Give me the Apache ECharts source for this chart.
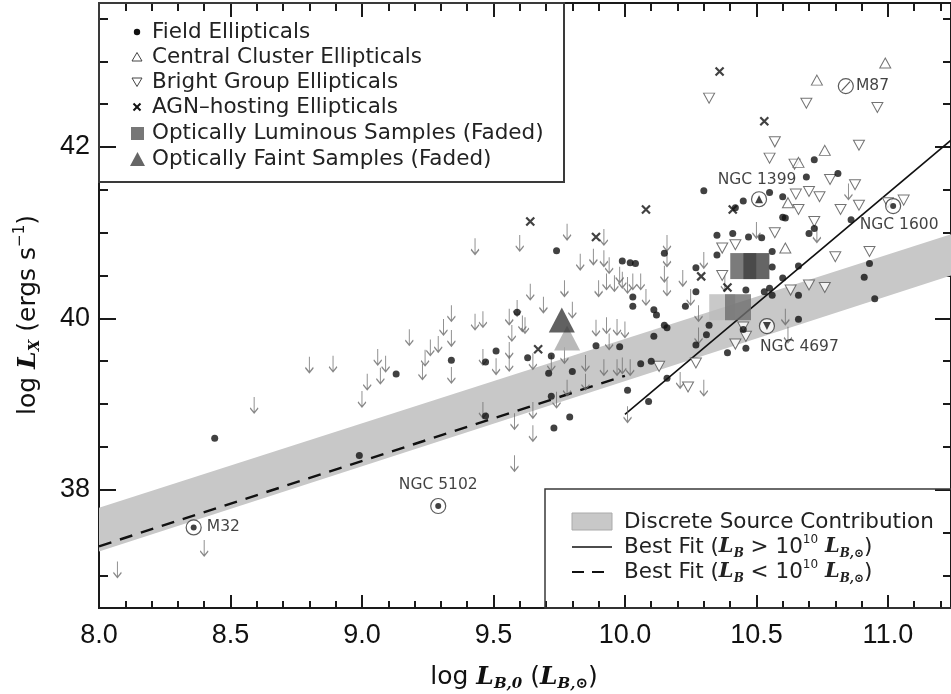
<!DOCTYPE html>
<html>
<head>
<meta charset="utf-8">
<script src="https://cdn.jsdelivr.net/npm/echarts@6/dist/echarts.min.js"></script>
<style>
html, body { margin: 0; padding: 0; background: #fff; }
#chart { width: 951px; height: 694px; }
</style>
</head>
<body>
<div id="chart"></div>
<script>
// axis ranges and ticks
var xMin = 8.0, xMax = 11.24;
var yMin = 36.62, yMax = 43.68;
var xMajorTicks = [8.0, 8.5, 9.0, 9.5, 10.0, 10.5, 11.0];
var xMinorTicks = [8.1, 8.2, 8.3, 8.4, 8.6, 8.7, 8.8, 8.9, 9.1, 9.2, 9.3, 9.4, 9.6, 9.7, 9.8, 9.9,
    10.1, 10.2, 10.3, 10.4, 10.6, 10.7, 10.8, 10.9, 11.1, 11.2];
var yMajorTicks = [38, 40, 42];
var yMinorTicks = [37.0, 37.5, 38.5, 39.0, 39.5, 40.5, 41.0, 41.5, 42.5, 43.0, 43.5];

// discrete source contribution band
var bandX = [8.0, 11.24];
var bandLower = [37.28, 40.50];
var bandUpper = [37.79, 40.98];

// best fits
var fitHigh = [[10.0, 38.88], [11.24, 42.08]];
var fitLow = [[8.0, 37.34], [10.0, 39.33]];

// field ellipticals (filled dots)
var fieldEll = [
    [8.44, 38.60], [8.99, 38.40], [9.13, 39.35], [9.34, 39.51], [9.47, 39.49], [9.51, 39.62],
    [9.47, 38.86], [9.59, 40.07], [9.63, 39.54], [9.74, 40.79], [9.99, 40.67], [10.02, 40.65],
    [10.04, 40.64], [9.72, 39.56], [9.71, 39.36], [9.80, 39.38], [9.72, 39.09], [9.79, 38.85],
    [9.73, 38.72], [10.01, 39.16], [10.09, 39.03], [10.06, 39.47], [10.10, 39.50], [9.89, 39.68],
    [9.98, 39.67], [10.03, 40.25], [10.03, 40.14], [10.11, 40.10], [10.12, 40.04], [10.15, 39.92],
    [10.16, 39.89], [10.11, 39.79], [10.15, 40.76], [10.23, 40.14], [10.27, 40.59], [10.27, 40.31],
    [10.32, 39.92], [10.27, 39.69], [10.31, 39.81], [10.35, 40.97], [10.41, 40.99], [10.47, 40.95],
    [10.52, 40.94], [10.35, 40.74], [10.56, 40.78], [10.56, 40.60], [10.60, 41.18], [10.60, 40.47],
    [10.55, 40.35], [10.53, 40.31], [10.46, 40.33], [10.56, 40.27], [10.66, 40.61], [10.70, 40.99],
    [10.72, 41.05], [10.86, 41.15], [10.93, 40.64], [10.91, 40.48], [10.95, 40.23], [10.66, 40.27],
    [10.66, 39.99], [10.46, 39.65], [10.39, 39.60], [10.45, 39.87], [10.16, 39.30], [10.72, 41.85],
    [10.81, 41.69], [10.69, 41.65], [10.30, 41.49], [10.55, 41.47], [10.60, 41.42], [10.45, 41.37],
    [10.42, 41.29], [10.61, 41.17]
];

// central cluster ellipticals (open up triangles)
var clusterEll = [
    [10.73, 42.78], [10.99, 42.98], [10.76, 41.96], [10.66, 41.82], [10.61, 40.82], [10.62, 41.35]
];

// bright group ellipticals (open down triangles)
var groupEll = [
    [10.32, 42.57], [10.69, 42.51], [10.96, 42.46], [10.57, 42.06], [10.89, 42.02], [10.55, 41.87],
    [10.645, 41.80], [10.78, 41.62], [10.65, 41.45], [10.70, 41.48], [10.74, 41.42], [10.66, 41.27],
    [10.82, 41.27], [10.89, 41.32], [10.875, 41.56], [11.00, 41.35], [11.06, 41.38], [10.72, 41.13],
    [10.57, 41.00], [10.80, 40.72], [10.93, 40.78], [10.63, 40.33], [10.70, 40.39], [10.76, 40.36],
    [10.45, 39.90], [10.46, 39.79], [10.42, 39.70], [10.27, 39.48], [10.24, 39.20], [10.13, 39.44],
    [10.37, 40.82], [10.37, 40.50], [10.42, 40.86]
];

// AGN-hosting ellipticals (crosses)
var agnEll = [
    [10.36, 42.88], [10.53, 42.30], [10.08, 41.27], [9.64, 41.13], [9.89, 40.95], [10.41, 41.27],
    [9.67, 39.64], [10.29, 40.49], [10.39, 40.36]
];

// upper limits (down arrows)
var upperLimits = [
    [8.07, 37.07], [8.40, 37.32], [8.59, 38.99], [8.80, 39.46], [8.89, 39.47], [9.00, 39.06],
    [9.02, 39.26], [9.06, 39.55], [9.07, 39.33], [9.09, 39.47], [9.18, 39.78], [9.23, 39.38],
    [9.24, 39.54], [9.26, 39.66], [9.29, 39.70], [9.31, 39.90], [9.34, 40.06], [9.34, 39.77],
    [9.34, 39.34], [9.43, 40.84], [9.43, 39.96], [9.46, 39.99], [9.46, 39.55], [9.51, 39.44],
    [9.46, 38.93], [9.56, 40.02], [9.59, 40.12], [9.60, 40.88], [9.64, 40.31], [9.62, 39.92],
    [9.57, 39.83], [9.56, 39.63], [9.56, 39.48], [9.65, 39.50], [9.58, 38.80], [9.65, 38.93],
    [9.65, 38.66], [9.58, 38.31], [9.92, 40.95], [9.78, 41.01], [9.83, 40.66], [9.88, 40.72],
    [9.92, 40.70], [9.94, 40.62], [9.69, 40.16], [9.77, 40.35], [9.80, 40.10], [9.61, 39.94],
    [9.77, 39.57], [9.72, 39.48], [9.74, 39.05], [9.78, 39.19], [9.85, 39.26], [9.92, 39.43],
    [9.97, 39.43], [9.99, 39.45], [10.02, 39.43], [9.85, 39.48], [9.94, 39.73], [9.89, 39.89],
    [9.93, 39.92], [9.97, 39.90], [10.00, 39.87], [9.90, 40.35], [9.93, 40.43], [9.96, 40.41],
    [9.98, 40.51], [9.99, 40.45], [10.01, 40.39], [10.03, 40.43], [10.06, 40.43], [10.16, 40.88],
    [10.16, 40.70], [10.15, 40.52], [10.16, 40.36], [10.22, 40.47], [10.25, 40.25], [10.28, 40.06],
    [10.28, 39.80], [10.30, 40.68], [10.38, 40.41], [10.08, 40.25], [10.50, 41.03], [10.73, 40.98],
    [10.85, 41.48], [10.61, 40.02], [10.62, 39.81], [10.30, 39.19], [10.21, 39.28], [10.01, 38.88]
];

// faded stacked samples
var lumSquares = [[10.37, 40.13], [10.43, 40.13], [10.45, 40.61], [10.50, 40.61]];
var lumColors = ['#bbbbbb', '#6e6e6e', '#5a5a5a', '#3e3e3e'];
var faintTriangles = [[9.78, 39.77], [9.76, 39.98]];
var faintColors = ['#a8a8a8', '#3a3a3a'];

// labelled galaxies
var specialNames = ['M32', 'NGC 5102', 'NGC 4697', 'NGC 1399', 'M87', 'NGC 1600'];
var specialX = [8.36, 9.29, 10.54, 10.51, 10.84, 11.02];
var specialY = [37.56, 37.81, 39.91, 41.39, 42.71, 41.31];

var labelPlace = {
    'M32': { position: 'right', distance: 5, offset: [0, 0] },
    'NGC 5102': { position: 'top', distance: 5, offset: [0, 0] },
    'NGC 4697': { position: 'right', distance: 5, offset: [-20, 21] },
    'NGC 1399': { position: 'top', distance: 3, offset: [-2, 0] },
    'M87': { position: 'right', distance: 2, offset: [0, 0] },
    'NGC 1600': { position: 'bottom', distance: 3, offset: [6, 0] }
};

var FONT = 'DejaVu Sans';
var downTri = 'path://M0,0 L10,0 L5,8.7 Z';
var crossPath = 'path://M0,0 L10,10 M10,0 L0,10';
var arrowPath = 'path://M4,0 L4,16 M1,11 L4,16 L7,11';
var slashRing = 'path://M10,5 A5,5 0 1 1 0,5 A5,5 0 1 1 10,5 Z M2.2,8 L7.8,2';

var chart = echarts.init(document.getElementById('chart'), null, { renderer: 'canvas' });

function xAxisDef(pos, ticks, len, withLabels) {
    return {
        type: 'value', position: pos, min: xMin, max: xMax,
        axisLine: { show: true, onZero: false, lineStyle: { color: '#1a1a1a', width: 2 } },
        axisTick: { show: true, inside: true, length: len, customValues: ticks,
            lineStyle: { color: '#1a1a1a', width: 2 } },
        axisLabel: withLabels ? {
            show: true, customValues: xMajorTicks, margin: 14,
            fontFamily: 'Liberation Sans', fontSize: 27, color: '#111',
            formatter: function (v) { return v.toFixed(1); }
        } : { show: false },
        splitLine: { show: false }, minorTick: { show: false }
    };
}

function yAxisDef(pos, ticks, len, withLabels) {
    return {
        type: 'value', position: pos, min: yMin, max: yMax,
        axisLine: { show: true, onZero: false, lineStyle: { color: '#1a1a1a', width: 2 } },
        axisTick: { show: true, inside: true, length: len, customValues: ticks,
            lineStyle: { color: '#1a1a1a', width: 2 } },
        axisLabel: withLabels ? {
            show: true, customValues: yMajorTicks, margin: 9,
            fontFamily: 'Liberation Sans', fontSize: 27, color: '#111',
            formatter: function (v) { return String(Math.round(v)); }
        } : { show: false },
        splitLine: { show: false }, minorTick: { show: false }
    };
}

var specialData = specialNames.map(function (n, i) {
    var p = labelPlace[n];
    return {
        name: n, value: [specialX[i], specialY[i]],
        symbol: n === 'M87' ? slashRing : 'circle',
        label: { show: true, formatter: n, position: p.position, distance: p.distance, offset: p.offset }
    };
});
var specialInner = specialNames.map(function (n, i) {
    var sym = 'circle', size = 6;
    if (n === 'M87') { sym = 'none'; }
    if (n === 'NGC 1399') { sym = 'triangle'; size = 8; }
    if (n === 'NGC 4697') { sym = downTri; size = 8; }
    return { value: [specialX[i], specialY[i]], symbol: sym, symbolSize: size };
});

var rich = {
    L: { fontFamily: 'DejaVu Serif', fontStyle: 'italic', fontWeight: 'bold', fontSize: 21, lineHeight: 26 },
    s: { fontFamily: 'DejaVu Serif', fontStyle: 'italic', fontWeight: 'bold', fontSize: 12, lineHeight: 13, verticalAlign: 'bottom' },
    p: { fontFamily: FONT, fontSize: 12, lineHeight: 14, verticalAlign: 'top' }
};
var richBig = {
    L: { fontFamily: 'DejaVu Serif', fontStyle: 'italic', fontWeight: 'bold', fontSize: 25, lineHeight: 30 },
    s: { fontFamily: 'DejaVu Serif', fontStyle: 'italic', fontWeight: 'bold', fontSize: 15, lineHeight: 15, verticalAlign: 'bottom' },
    p: { fontFamily: FONT, fontSize: 15, lineHeight: 15, verticalAlign: 'top' }
};

var legendRows = [32, 57, 82, 107, 133, 159];
var legendText = ['Field Ellipticals', 'Central Cluster Ellipticals', 'Bright Group Ellipticals',
    'AGN\u2013hosting Ellipticals', 'Optically Luminous Samples (Faded)', 'Optically Faint Samples (Faded)'];

var graphics = [
    { type: 'rect', z: 100, shape: { x: 99, y: 3, width: 465, height: 179 },
        style: { fill: 'none', stroke: '#3a3a3a', lineWidth: 2 } },
    { type: 'rect', z: 100, shape: { x: 545, y: 489, width: 420, height: 119 },
        style: { fill: 'none', stroke: '#3a3a3a', lineWidth: 1.5 } },
    // legend symbols, top-left
    { type: 'circle', z: 101, shape: { cx: 137, cy: legendRows[0], r: 3.2 }, style: { fill: '#111' } },
    { type: 'polygon', z: 101, shape: { points: [[132, legendRows[1] + 4], [142, legendRows[1] + 4], [137, legendRows[1] - 4.5]] },
        style: { fill: 'none', stroke: '#444', lineWidth: 1 } },
    { type: 'polygon', z: 101, shape: { points: [[132, legendRows[2] - 4], [142, legendRows[2] - 4], [137, legendRows[2] + 4.5]] },
        style: { fill: 'none', stroke: '#444', lineWidth: 1 } },
    { type: 'polyline', z: 101, shape: { points: [[133.5, legendRows[3] - 3.5], [140.5, legendRows[3] + 3.5]] },
        style: { stroke: '#111', lineWidth: 2 } },
    { type: 'polyline', z: 101, shape: { points: [[140.5, legendRows[3] - 3.5], [133.5, legendRows[3] + 3.5]] },
        style: { stroke: '#111', lineWidth: 2 } },
    { type: 'rect', z: 101, shape: { x: 131, y: legendRows[4] - 6, width: 13, height: 13 }, style: { fill: '#777' } },
    { type: 'polygon', z: 101, shape: { points: [[130, legendRows[5] + 7], [145, legendRows[5] + 7], [137.5, legendRows[5] - 7]] },
        style: { fill: '#666' } },
    // legend symbols, bottom-right
    { type: 'rect', z: 101, shape: { x: 572, y: 513, width: 40, height: 17 },
        style: { fill: '#c8c8c8', stroke: '#aaa', lineWidth: 1 } },
    { type: 'line', z: 101, shape: { x1: 572, y1: 547, x2: 612, y2: 547 }, style: { stroke: '#111', lineWidth: 1.5 } },
    { type: 'line', z: 101, shape: { x1: 572, y1: 572, x2: 612, y2: 572 },
        style: { stroke: '#111', lineWidth: 2, lineDash: [12, 8] } },
    { type: 'text', z: 101, x: 624, y: 522, style: { text: 'Discrete Source Contribution', fontFamily: FONT,
        fontSize: 21.5, fill: '#222', verticalAlign: 'middle' } },
    { type: 'text', z: 101, x: 624, y: 547, style: { text: 'Best Fit ({L|L}{s|B} > 10{p|10} {L|L}{s|B,\u2299})',
        fontFamily: FONT, fontSize: 21.5, lineHeight: 26, fill: '#222', verticalAlign: 'middle', rich: rich } },
    { type: 'text', z: 101, x: 624, y: 572, style: { text: 'Best Fit ({L|L}{s|B} < 10{p|10} {L|L}{s|B,\u2299})',
        fontFamily: FONT, fontSize: 21.5, lineHeight: 26, fill: '#222', verticalAlign: 'middle', rich: rich } },
    // axis titles
    { type: 'text', z: 101, x: 514, y: 677, style: { text: 'log {L|L}{s|B,0} ({L|L}{s|B,\u2299})',
        fontFamily: FONT, fontSize: 25, lineHeight: 30, fill: '#111', align: 'center', verticalAlign: 'middle', rich: richBig } },
    { type: 'text', z: 101, x: 28, y: 315, rotation: Math.PI / 2, style: { text: 'log {L|L}{s|X} (ergs s{p|\u22121})',
        fontFamily: FONT, fontSize: 25, lineHeight: 30, fill: '#111', align: 'center', verticalAlign: 'middle', rich: richBig } }
];
legendText.forEach(function (t, i) {
    graphics.push({ type: 'text', z: 101, x: 152, y: legendRows[i],
        style: { text: t, fontFamily: FONT, fontSize: 21.5, fill: '#222', verticalAlign: 'middle' } });
});

var option = {
    animation: false,
    backgroundColor: '#fff',
    grid: { left: 99, right: 0, top: 3, bottom: 86, containLabel: false, outerBoundsMode: 'none' },
    xAxis: [
        xAxisDef('bottom', xMajorTicks, 13, true),
        xAxisDef('bottom', xMinorTicks, 7, false),
        xAxisDef('top', xMajorTicks, 14, false),
        xAxisDef('top', xMinorTicks, 8, false)
    ],
    yAxis: [
        yAxisDef('left', yMajorTicks, 17, true),
        yAxisDef('left', yMinorTicks, 9, false),
        yAxisDef('right', yMajorTicks, 16, false),
        yAxisDef('right', yMinorTicks, 8, false)
    ],
    graphic: graphics,
    series: [
        {
            type: 'custom', z: 1, clip: true,
            data: bandX.map(function (x, i) { return [x, bandLower[i]]; }),
            renderItem: function (params, api) {
                if (params.dataIndex > 0) return null;
                var pts = [];
                for (var i = 0; i < bandX.length; i++) pts.push(api.coord([bandX[i], bandUpper[i]]));
                for (var j = bandX.length - 1; j >= 0; j--) pts.push(api.coord([bandX[j], bandLower[j]]));
                return { type: 'polygon', shape: { points: pts }, style: { fill: '#c8c8c8' } };
            }
        },
        { type: 'line', z: 2, data: fitHigh, showSymbol: false, symbol: 'none', clip: true,
            lineStyle: { color: '#111', width: 1.6 } },
        { type: 'line', z: 2, data: fitLow, showSymbol: false, symbol: 'none', clip: true,
            lineStyle: { color: '#111', width: 2.4, type: [13, 9] } },
        { type: 'scatter', z: 3, data: upperLimits, symbol: arrowPath, symbolSize: [8, 16],
            itemStyle: { color: 'none', borderColor: '#6a6a6a', borderWidth: 1.3 } },
        { type: 'scatter', z: 4, data: groupEll, symbol: downTri, symbolSize: [11, 10],
            itemStyle: { color: '#fff', borderColor: '#505050', borderWidth: 1 } },
        { type: 'scatter', z: 4, data: clusterEll, symbol: 'triangle', symbolSize: [11, 10],
            itemStyle: { color: '#fff', borderColor: '#505050', borderWidth: 1 } },
        { type: 'scatter', z: 5, data: agnEll, symbol: crossPath, symbolSize: 8,
            itemStyle: { color: 'none', borderColor: '#111', borderWidth: 2.2 } },
        { type: 'scatter', z: 5, data: fieldEll, symbol: 'circle', symbolSize: 7,
            itemStyle: { color: '#111' } },
        { type: 'scatter', z: 6, symbol: 'rect', symbolSize: 26,
            data: lumSquares.map(function (p, i) { return { value: p, itemStyle: { color: lumColors[i] } }; }) },
        { type: 'scatter', z: 6, symbol: 'triangle', symbolSize: [26, 25],
            data: faintTriangles.map(function (p, i) { return { value: p, itemStyle: { color: faintColors[i] } }; }) },
        { type: 'scatter', z: 7, data: specialData, symbolSize: 15,
            itemStyle: { color: '#fff', borderColor: '#333', borderWidth: 1.2 },
            label: { color: '#111', fontFamily: FONT, fontSize: 15.5 } },
        { type: 'scatter', z: 8, data: specialInner,
            itemStyle: { color: '#111' } }
    ]
};
chart.setOption(option);
</script>
</body>
</html>
